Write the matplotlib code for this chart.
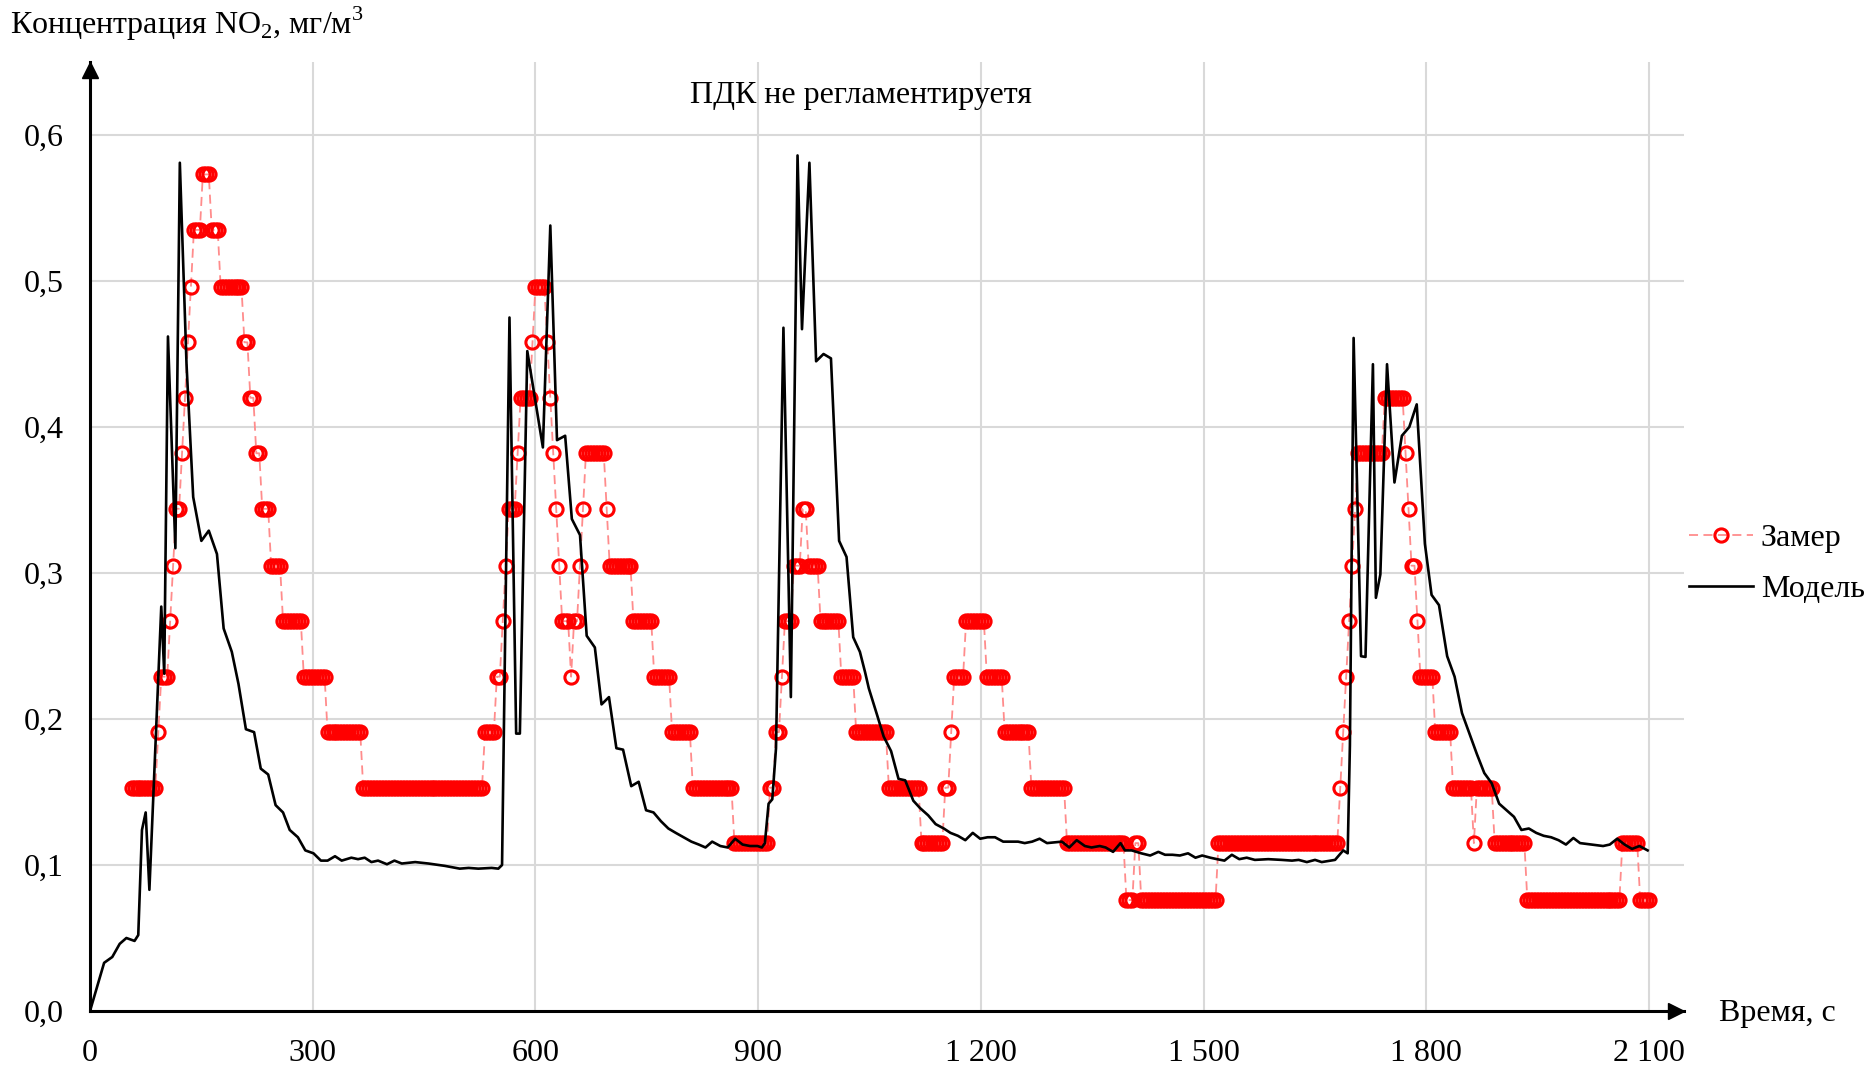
import numpy as np
import matplotlib
matplotlib.use("Agg")
import matplotlib.pyplot as plt
from matplotlib.ticker import FuncFormatter
from matplotlib.transforms import offset_copy

plt.rcParams["font.family"] = ["Liberation Serif", "DejaVu Serif"]
plt.rcParams["mathtext.fontset"] = "custom"
plt.rcParams["mathtext.rm"] = "Liberation Serif"
FS = 23

# ---- measured NO2 (instrument readings, 4 s sampling, run-length coded) ----
meas_t0, meas_dt = 56, 4
meas_levels = [
    0.153, 0.191, 0.229, 0.267, 0.305, 0.344, 0.382, 0.420, 0.458, 0.496,
    0.535, 0.573, 0.535, 0.496, 0.458, 0.420, 0.382, 0.344, 0.305, 0.267,
    0.229, 0.191, 0.153,
    0.191, 0.229, 0.267, 0.305, 0.344, 0.382, 0.420, 0.458, 0.496, 0.458,
    0.420, 0.382, 0.344, 0.305, 0.267, 0.229, 0.267, 0.305, 0.344, 0.382,
    0.344, 0.305, 0.267, 0.229, 0.191, 0.153, 0.115,
    0.153, 0.191, 0.229, 0.267, 0.305, 0.344, 0.305, 0.267, 0.229, 0.191,
    0.153, 0.115,
    0.153, 0.191, 0.229, 0.267, 0.229, 0.191, 0.153, 0.115, 0.076, 0.115,
    0.076, 0.115,
    0.153, 0.191, 0.229, 0.267, 0.305, 0.344, 0.382, 0.420, 0.382, 0.344,
    0.305, 0.267, 0.229, 0.191, 0.153, 0.115, 0.153, 0.115, 0.076, 0.115,
    0.076,
]
meas_counts = [
    9, 1, 3, 1, 1, 2, 1, 1, 1, 1,
    3, 3, 3, 8, 2, 2, 2, 3, 4, 7,
    8, 12, 41,
    4, 2, 1, 1, 3, 1, 4, 1, 4, 1,
    1, 1, 1, 1, 3, 1, 2, 1, 1, 7,
    1, 8, 7, 6, 7, 14, 12,
    2, 2, 1, 3, 3, 2, 4, 7, 5, 11,
    11, 8,
    2, 1, 4, 7, 6, 9, 12, 20, 3, 2,
    26, 41,
    1, 1, 1, 1, 1, 1, 9, 7, 1, 1,
    2, 1, 5, 6, 7, 1, 6, 11, 32, 6,
    4,
]

# ---- model NO2 ----
model_t = [
    0, 19, 30, 40, 49, 60, 65, 70, 75, 80, 96, 100, 105, 115, 121, 130, 139,
    150, 160, 171, 180, 191, 200, 210, 221, 230, 240, 250, 260, 269, 280, 290,
    301, 311, 320, 330, 339, 352, 361, 370, 379, 388, 400, 410, 420, 438, 456,
    478, 498, 510, 523, 541, 550, 555, 565, 574, 579, 589, 610, 620, 629, 640,
    649, 660, 669, 680, 689, 699, 709, 718, 729, 739, 749, 759, 769, 779, 789,
    810, 820, 829, 838, 849, 859, 869, 879, 889, 899, 905, 909, 914, 919, 924,
    934, 944, 953, 959, 969, 978, 988, 998, 1009, 1019, 1028, 1037, 1044,
    1049, 1060, 1069, 1079, 1089, 1098, 1109, 1118, 1129, 1139, 1150, 1159,
    1169, 1179, 1189, 1199, 1209, 1219, 1230, 1250, 1259, 1269, 1279, 1289,
    1309, 1319, 1329, 1340, 1349, 1360, 1368, 1378, 1388, 1394, 1403, 1416,
    1428, 1439, 1448, 1458, 1468, 1479, 1489, 1498, 1509, 1518, 1528, 1538,
    1548, 1558, 1569, 1587, 1605, 1619, 1628, 1639, 1650, 1659, 1677, 1688,
    1694, 1697, 1702, 1712, 1718, 1728, 1732, 1738, 1747, 1757, 1767, 1777,
    1787, 1798, 1807, 1817, 1828, 1838, 1848, 1858, 1868, 1878, 1888, 1898,
    1908, 1918, 1928, 1938, 1948, 1958, 1968, 1978, 1988, 1998, 2007, 2038,
    2047, 2057, 2067, 2077, 2087, 2098,
]
model_c = [
    0.000, 0.033, 0.037, 0.046, 0.050, 0.048, 0.052, 0.124, 0.136, 0.083,
    0.277, 0.231, 0.462, 0.317, 0.581, 0.443, 0.352,
    0.322, 0.329, 0.313, 0.262, 0.246, 0.224, 0.193, 0.191, 0.166, 0.162,
    0.141, 0.136, 0.124, 0.119, 0.110,
    0.108, 0.103, 0.103, 0.106, 0.103, 0.105, 0.104, 0.105, 0.102, 0.103,
    0.1005, 0.103, 0.101, 0.102, 0.101,
    0.0994, 0.0975, 0.098, 0.0975, 0.098, 0.0975, 0.100, 0.475, 0.190, 0.190,
    0.452, 0.386, 0.538, 0.391, 0.394,
    0.337, 0.326, 0.257, 0.249, 0.210, 0.215, 0.180, 0.179, 0.154, 0.157,
    0.1375, 0.136, 0.130, 0.125, 0.122,
    0.116, 0.114, 0.112, 0.116, 0.113, 0.112, 0.118, 0.114, 0.113, 0.113,
    0.112, 0.115, 0.142, 0.145, 0.180,
    0.468, 0.215, 0.586, 0.467, 0.581, 0.445, 0.450, 0.447, 0.322, 0.311,
    0.256, 0.246, 0.232,
    0.221, 0.203, 0.188, 0.178, 0.159, 0.158, 0.144, 0.139, 0.134, 0.128,
    0.125, 0.122,
    0.120, 0.117, 0.122, 0.118, 0.119, 0.119, 0.116, 0.116, 0.115, 0.116,
    0.118, 0.115,
    0.116, 0.112, 0.117, 0.113, 0.112, 0.113, 0.112, 0.109, 0.115, 0.110,
    0.110, 0.108,
    0.1065, 0.109, 0.107, 0.107, 0.1065, 0.108, 0.105, 0.1065, 0.105, 0.104,
    0.103, 0.107,
    0.104, 0.105, 0.1035, 0.104, 0.1035, 0.103, 0.1035, 0.102, 0.1035, 0.102,
    0.1035, 0.110,
    0.108, 0.182, 0.461, 0.243, 0.2425, 0.443, 0.283, 0.299, 0.443, 0.362,
    0.394, 0.400,
    0.4155, 0.320, 0.285, 0.278, 0.243, 0.229, 0.204, 0.190, 0.176, 0.163,
    0.156, 0.142,
    0.1375, 0.133, 0.124, 0.125, 0.122, 0.120, 0.119, 0.117, 0.114, 0.1185,
    0.115, 0.113,
    0.114, 0.118, 0.114, 0.111, 0.113, 0.110,
]

x_ticks = [0, 300, 600, 900, 1200, 1500, 1800, 2100]
y_ticks = [0.0, 0.1, 0.2, 0.3, 0.4, 0.5, 0.6]

meas_c = np.repeat(meas_levels, meas_counts)
meas_t = meas_t0 + meas_dt * np.arange(len(meas_c))

W, H = 1876, 1065
fig = plt.figure(figsize=(W / 100, H / 100), dpi=100)
ax = fig.add_axes([90 / W, 1 - 1011 / H, (1684 - 90) / W, (1011 - 62) / H])
ax.set_xlim(0, 2147)
ax.set_ylim(0, 0.65)

ax.plot(meas_t, meas_c, color="#ff8c8c", lw=1.3, dashes=(5, 3),
        marker="o", ms=9.5, mfc="none", mec="#ff0000", mew=2.2,
        label="Замер", zorder=3)
ax.plot(model_t, model_c, color="black", lw=1.9, label="Модель", zorder=4)

ax.set_xticks(x_ticks)
ax.set_yticks(y_ticks)
ax.xaxis.set_major_formatter(FuncFormatter(lambda v, p: f"{v:,.0f}".replace(",", " ")))
ax.yaxis.set_major_formatter(FuncFormatter(lambda v, p: f"{v:.1f}".replace(".", ",")))
ax.tick_params(length=0, labelsize=FS)
ax.tick_params(axis="y", pad=19)
ax.tick_params(axis="x", pad=20)
ax.grid(True, color="#d9d9d9", lw=1.5)
ax.set_axisbelow(True)

for s in ["top", "right"]:
    ax.spines[s].set_visible(False)
for s in ["left", "bottom"]:
    ax.spines[s].set_linewidth(2.2)
    ax.spines[s].set_zorder(5)

# axis arrows
ax.plot(0, 1, "^k", ms=11.5, clip_on=False, zorder=6,
        transform=offset_copy(ax.transAxes, fig=fig, y=-5.5, units="points"))
ax.plot(1, 0, ">k", ms=11.5, clip_on=False, zorder=6,
        transform=offset_copy(ax.transAxes, fig=fig, x=-5.5, units="points"))

ax.text(1039, 0.627, "ПДК не регламентируетя", ha="center", va="center", fontsize=FS)
fig.text(10 / W, 1 - 24 / H, r"Концентрация NO$_\mathregular{2}$, мг/м$^\mathregular{3}$",
         ha="left", va="center", fontsize=FS)
fig.text(1719 / W, 1 - 1014 / H, "Время, с", ha="left", va="center", fontsize=FS)

fig.legend(loc="center left", bbox_to_anchor=(1689 / W, 1 - 564 / H),
           frameon=False, fontsize=FS, handlelength=2.0, handletextpad=0.25,
           labelspacing=0.68, borderpad=0, borderaxespad=0)

fig.savefig("out.png", dpi=100)
